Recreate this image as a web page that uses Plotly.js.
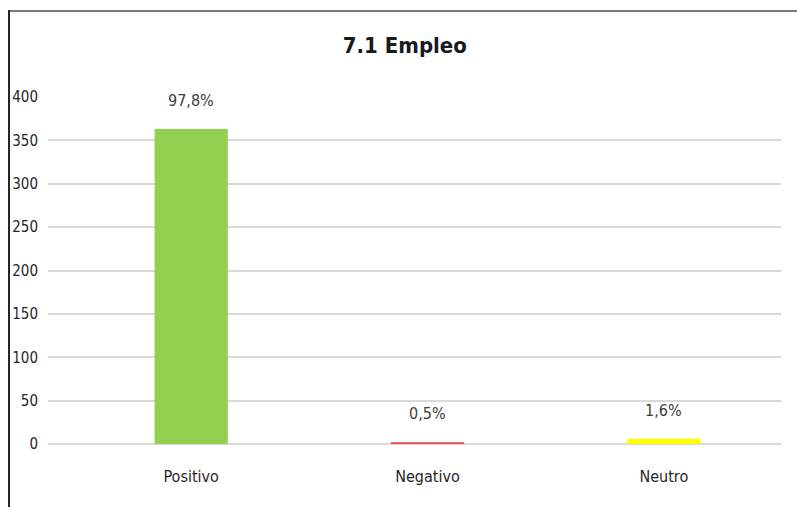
<!DOCTYPE html>
<html>
<head>
<meta charset="utf-8">
<script src="https://cdn.plot.ly/plotly-3.0.1.min.js"></script>
<style>
  html, body { margin: 0; padding: 0; background: #fff; }
  #wrap { position: relative; width: 797px; height: 507px; overflow: hidden; }
  #chart { position: absolute; left: 0; top: 0; width: 797px; height: 507px; }
  #topline { position: absolute; left: 8px; top: 10px; width: 789px; height: 2px; background: #7a7a7a; }
  #leftline { position: absolute; left: 8px; top: 10px; width: 2px; height: 497px; background: #262626; }
</style>
</head>
<body>
<div id="wrap">
  <div id="chart"></div>
  <div id="topline"></div>
  <div id="leftline"></div>
</div>
<script>
const categories = ["Positivo", "Negativo", "Neutro"];
const values = [363, 2, 6];
const pctLabels = ["97,8%", "0,5%", "1,6%"];
const barColors = ["#92d050", "#f04848", "#ffff00"];
const yTicks = [0, 50, 100, 150, 200, 250, 300, 350, 400];

const font = "'Liberation Sans Narrow', 'Arial Narrow', 'DejaVu Sans Condensed', sans-serif";

const trace = {
  type: "bar",
  x: categories,
  y: values,
  width: 0.31,
  marker: { color: barColors },
  hoverinfo: "none"
};

const annotations = categories.map((c, i) => ({
  x: c, y: values[i], xref: "x", yref: "y",
  text: pctLabels[i], showarrow: false,
  yanchor: "bottom", yshift: 17,
  font: { family: font, size: 16, color: "#404040" }
}));

const layout = {
  width: 797, height: 507,
  margin: { l: 48, r: 16, t: 97, b: 63 },
  paper_bgcolor: "#ffffff", plot_bgcolor: "#ffffff",
  showlegend: false,
  title: {
    text: "<b>7.1 Empleo</b>",
    x: 0.508, xanchor: "center",
    y: 0.91, yanchor: "middle",
    font: { family: font, size: 22, color: "#1a1a1a" }
  },
  xaxis: {
    type: "category",
    range: [-0.606, 2.496],
    showgrid: false, zeroline: false, showline: false,
    ticks: "",
    tickfont: { family: font, size: 16, color: "#262626" },
    ticklabelstandoff: 21
  },
  yaxis: {
    range: [0, 400],
    tickvals: yTicks,
    ticktext: yTicks.map(String),
    showgrid: true, gridcolor: "#d9d9d9", gridwidth: 2,
    zeroline: true, zerolinecolor: "#d9d9d9", zerolinewidth: 2,
    showline: false, ticks: "",
    tickfont: { family: font, size: 15, color: "#262626" },
    ticklabelstandoff: 9
  },
  annotations: annotations
};

Plotly.newPlot("chart", [trace], layout, { staticPlot: true, displayModeBar: false });
</script>
</body>
</html>
